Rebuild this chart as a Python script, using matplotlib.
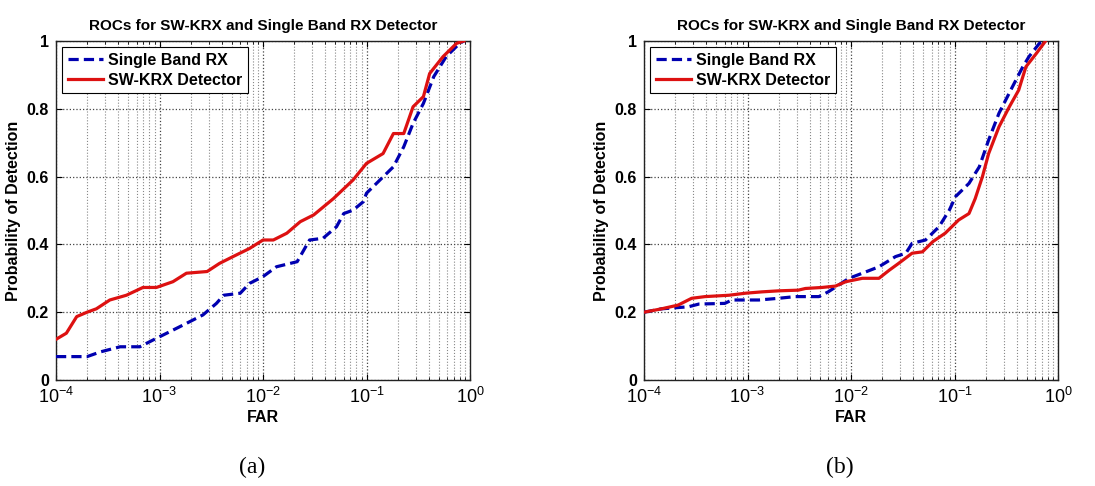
import matplotlib
matplotlib.use("Agg")
import matplotlib.pyplot as plt
from matplotlib.ticker import LogLocator, FixedLocator, NullFormatter
import numpy as np

plt.rcParams['font.family'] = ['Liberation Sans', 'DejaVu Sans']
plt.rcParams['mathtext.fontset'] = 'custom'
plt.rcParams['mathtext.rm'] = 'Liberation Sans:bold'
plt.rcParams['mathtext.it'] = 'Liberation Sans:bold'
plt.rcParams['mathtext.bf'] = 'Liberation Sans:bold'
plt.rcParams['mathtext.default'] = 'regular'

title = "ROCs for SW-KRX and Single Band RX Detector"
series_names = ["Single Band RX", "SW-KRX Detector"]
captions = ["(a)", "(b)"]
yticks = [0, 0.2, 0.4, 0.6, 0.8, 1.0]
ytick_labels = ["0", "0.2", "0.4", "0.6", "0.8", "1"]

# Panel (a): log10(FAR) and Pd
a_rx_logfar = [-4.0, -3.70, -3.57, -3.38, -3.19, -3.03, -2.93, -2.74, -2.58, -2.45, -2.38, -2.22,
               -2.13, -2.0, -1.87, -1.67, -1.55, -1.42, -1.29, -1.22, -1.13, -1.03, -1.0, -0.87,
               -0.74, -0.64, -0.55, -0.45, -0.35, -0.23, -0.10, -0.06]
a_rx_pd = [0.069, 0.069, 0.083, 0.098, 0.098, 0.123, 0.138, 0.167, 0.192, 0.226, 0.25, 0.256,
           0.285, 0.305, 0.334, 0.349, 0.413, 0.418, 0.452, 0.491, 0.501, 0.526, 0.551, 0.59,
           0.629, 0.688, 0.757, 0.816, 0.895, 0.954, 0.993, 1.0]
a_krx_logfar = [-4.0, -3.90, -3.80, -3.70, -3.61, -3.48, -3.32, -3.16, -3.03, -2.87, -2.74, -2.54,
                -2.42, -2.29, -2.13, -2.0, -1.90, -1.77, -1.64, -1.51, -1.32, -1.13, -1.0, -0.84,
                -0.74, -0.64, -0.55, -0.45, -0.39, -0.26, -0.13, -0.06]
a_krx_pd = [0.12, 0.138, 0.187, 0.20, 0.21, 0.236, 0.25, 0.273, 0.273, 0.29, 0.315, 0.32,
            0.344, 0.364, 0.388, 0.413, 0.413, 0.433, 0.467, 0.487, 0.535, 0.59, 0.639, 0.668,
            0.727, 0.727, 0.806, 0.836, 0.904, 0.954, 0.993, 1.0]

# Panel (b)
b_rx_logfar = [-4.0, -3.83, -3.57, -3.47, -3.22, -3.15, -2.89, -2.70, -2.54, -2.31, -2.22, -2.12,
               -2.02, -1.89, -1.73, -1.57, -1.47, -1.41, -1.28, -1.15, -1.05, -0.99, -0.86, -0.76,
               -0.67, -0.57, -0.44, -0.34, -0.28, -0.18, -0.12]
b_rx_pd = [0.20, 0.21, 0.216, 0.224, 0.226, 0.236, 0.236, 0.241, 0.246, 0.246, 0.26, 0.28,
           0.30, 0.315, 0.334, 0.364, 0.374, 0.403, 0.413, 0.452, 0.501, 0.541, 0.58, 0.629,
           0.708, 0.787, 0.865, 0.924, 0.954, 0.993, 1.0]
b_krx_logfar = [-4.0, -3.83, -3.67, -3.54, -3.41, -3.18, -3.02, -2.86, -2.70, -2.51, -2.44, -2.28,
                -2.15, -2.05, -1.89, -1.73, -1.63, -1.54, -1.41, -1.31, -1.21, -1.09, -0.96, -0.86,
                -0.80, -0.73, -0.67, -0.57, -0.47, -0.38, -0.31, -0.21, -0.12]
b_krx_pd = [0.20, 0.21, 0.221, 0.241, 0.246, 0.25, 0.256, 0.26, 0.263, 0.265, 0.27, 0.273,
            0.277, 0.29, 0.30, 0.30, 0.324, 0.344, 0.374, 0.378, 0.408, 0.433, 0.472, 0.491,
            0.535, 0.60, 0.668, 0.747, 0.806, 0.855, 0.924, 0.963, 1.0]

panels = [
    (a_rx_logfar, a_rx_pd, a_krx_logfar, a_krx_pd),
    (b_rx_logfar, b_rx_pd, b_krx_logfar, b_krx_pd),
]

fig = plt.figure(figsize=(10.95, 4.86), dpi=100)
lefts = [56 / 1095, 644 / 1095]
caption_x = [252 / 1095, 840 / 1095]
W = 414 / 1095
B = (486 - 380) / 486
H = 339 / 486

for i, (rx_x, rx_y, k_x, k_y) in enumerate(panels):
    ax = fig.add_axes([lefts[i], B, W, H])
    ax.set_xscale('log')
    ax.plot(10 ** np.array(rx_x), rx_y, color='#0000b0', linestyle=(0, (3.2, 1.6)), linewidth=2.3,
            label=series_names[0], zorder=3)
    ax.plot(10 ** np.array(k_x), k_y, color='#dd1111', linestyle='-', linewidth=2.3,
            label=series_names[1], zorder=3)
    ax.set_xlim(1e-4, 1)
    ax.set_ylim(0, 1)
    ax.xaxis.set_major_locator(LogLocator(base=10, numticks=10))
    ax.xaxis.set_minor_locator(LogLocator(base=10, subs=np.arange(2, 10), numticks=20))
    ax.xaxis.set_minor_formatter(NullFormatter())
    ax.yaxis.set_major_locator(FixedLocator(yticks))
    ax.set_yticklabels(ytick_labels)
    ax.grid(True, which='major', linestyle=':', color='#444444', linewidth=0.9)
    ax.grid(True, which='minor', axis='x', linestyle=':', color='#888888', linewidth=0.8)
    ax.tick_params(which='both', direction='in', top=True, right=True)
    ax.tick_params(which='major', length=4, pad=5)
    ax.tick_params(axis='y', which='major', labelsize=11.5)
    ax.tick_params(axis='x', which='major', labelsize=13, pad=5)
    for lab in ax.get_yticklabels():
        lab.set_fontweight('bold')
    for s in ax.spines.values():
        s.set_linewidth(1.0)
        s.set_color('#222222')
    ax.set_title(title, fontsize=11, fontweight='bold', pad=8)
    ax.set_xlabel("FAR", fontsize=11.5, fontweight='bold', labelpad=2)
    ax.set_ylabel("Probability of Detection", fontsize=11.5, fontweight='bold', labelpad=4)
    leg = ax.legend(loc='upper left', prop={'weight': 'bold', 'size': 11.5},
                    fancybox=False, framealpha=1, edgecolor='black', handlelength=2.2,
                    handletextpad=0.3, borderpad=0.35, labelspacing=0.3,
                    borderaxespad=0.4)
    leg.get_frame().set_linewidth(0.8)
    fig.text(caption_x[i], 1 - 467 / 486, captions[i], ha='center', va='center',
             fontsize=17, family='Liberation Serif')

fig.savefig("out.png", dpi=100)
